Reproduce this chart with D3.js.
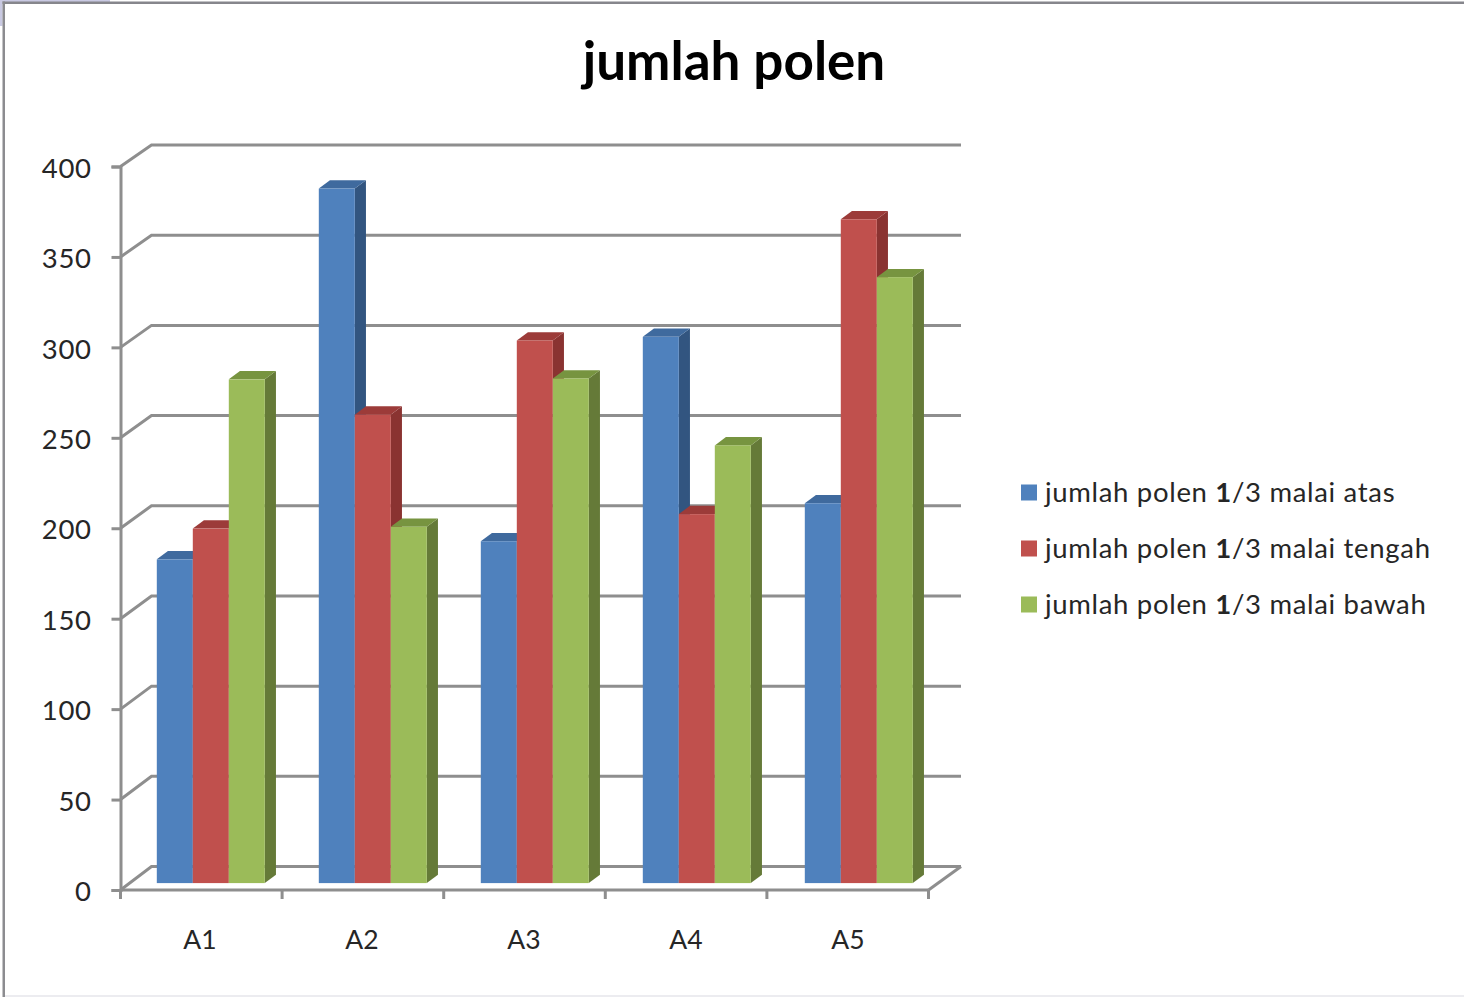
<!DOCTYPE html>
<html>
<head>
<meta charset="utf-8">
<script src="https://cdn.jsdelivr.net/npm/d3@7/dist/d3.min.js"></script>
<style>
  html, body { margin: 0; padding: 0; background: #fff; overflow: hidden; }
  svg { display: block; }
  text { font-family: Lato, "Open Sans", sans-serif; fill: #262626; }
</style>
</head>
<body>
<svg id="chart" width="1464" height="997"></svg>
<script>
const categories = ["A1", "A2", "A3", "A4", "A5"];
const seriesNames = ["malai atas", "malai tengah", "malai bawah"];
const atas = [179, 384, 189, 302, 210];
const tengah = [196, 259, 300, 204, 367];
const bawah = [278.5, 197, 279, 242, 335];
const yTicks = [0, 50, 100, 150, 200, 250, 300, 350, 400];
const seriesValues = [atas, tengah, bawah];

const fills = [
  { front: "#4f81bd", side: "#325580", top: "#3f6a9e" },
  { front: "#c0504d", side: "#8a3331", top: "#9c3b39" },
  { front: "#9bbb59", side: "#657a38", top: "#779440" }
];

const svg = d3.select("#chart");
const gray = "#8e8e8e";
const lineWidth = 3;

// Window frame around the chart area
svg.append("rect").attr("x", 0).attr("y", 0).attr("width", 110).attr("height", 2).attr("fill", "#c9c9e2");
svg.append("rect").attr("x", 0).attr("y", 0).attr("width", 2.5).attr("height", 26).attr("fill", "#c9c9e2");
svg.append("rect").attr("x", 2.5).attr("y", 1.5).attr("width", 1462).attr("height", 2.5).attr("fill", "#86868c");
svg.append("rect").attr("x", 2.5).attr("y", 1.5).attr("width", 2.5).attr("height", 996).attr("fill", "#8c8c90");
svg.append("rect").attr("x", 5).attr("y", 995).attr("width", 1459).attr("height", 2).attr("fill", "#ececf0");

// Axis-plane scales; the bars and back wall sit on a slightly wider plane
const xAxisScale = d3.scaleBand().domain(categories).range([120.5, 928.5]);
const xBars = d3.scaleBand().domain(categories).range([120.5, 930.5]);
const x1 = d3.scaleBand().domain(d3.range(3)).range([0, 108]);
const y = d3.scaleLinear().domain([0, 400]).range([890, 166.5]);
const yBack = d3.scaleLinear().domain([0, 400]).range([866.5, 145]);

// Oblique projection: depth 0 is the axis plane, depth 1 the back wall
const depthX = 31, depthY = 23;
const px = (x, d) => x + depthX * d;
const py = (v, d) => y(v) - depthY * d;
const barFront = 0.3, barBack = 0.66;

// Back wall gridlines with their run along the side wall
const grid = svg.append("g").attr("fill", "none").attr("stroke", gray).attr("stroke-width", lineWidth);
yTicks.forEach(t => {
  grid.append("path").attr("d", d3.line()([
    [xBars.range()[0], y(t)],
    [px(xBars.range()[0], 1), yBack(t)],
    [px(xBars.range()[1], 1) - 0.5, yBack(t)]
  ]));
});

// Right edge of the floor
grid.append("path").attr("d", d3.line()([
  [xAxisScale.range()[1], y(0)],
  [px(xBars.range()[1], 1) - 0.5, yBack(0)]
]));

// Axes
const yAxis = d3.axisLeft(y).tickValues(yTicks).tickSize(9).tickPadding(20);
const xAxis = d3.axisBottom(xBars).tickSize(0).tickPadding(40);

const gy = svg.append("g").attr("transform", `translate(${xAxisScale.range()[0]},0)`).call(yAxis);
const gx = svg.append("g").attr("transform", `translate(-1.5,${y(0)})`).call(xAxis);
[gy, gx].forEach(g => {
  g.selectAll(".domain").attr("stroke", gray).attr("stroke-width", lineWidth);
  g.selectAll("line").attr("stroke", gray).attr("stroke-width", lineWidth);
  g.selectAll("text").attr("font-size", 27.5).attr("font-family", "Lato").attr("fill", "#262626");
});
gy.selectAll("text").attr("dy", "0.39em").attr("letter-spacing", 0.6);
gx.selectAll("text").attr("font-size", 26.5);
gx.select(".domain").attr("d", `M${xAxisScale.range()[0] + 1.5},0H${xAxisScale.range()[1] + 1.5}`);

// Category boundary ticks on the x axis
const boundaries = categories.map(c => xAxisScale(c)).concat(xAxisScale.range()[1]);
svg.append("g").selectAll("line").data(boundaries).join("line")
  .attr("x1", d => d).attr("x2", d => d)
  .attr("y1", y(0)).attr("y2", y(0) + 9)
  .attr("stroke", gray).attr("stroke-width", lineWidth);

// Bars, left to right so each one overlaps the side of its neighbour
const poly = pts => d3.line()(pts) + "Z";
const groupOffset = (xBars.bandwidth() - x1.range()[1]) / 2;
categories.forEach((c, ci) => {
  seriesValues.forEach((vals, si) => {
    const v = vals[ci];
    const xl = xBars(c) + groupOffset + x1(si);
    const xr = xl + x1.bandwidth();
    const g = svg.append("g");
    const fx = (x) => px(x, barFront), bx = (x) => px(x, barBack);
    const fy = (val) => py(val, barFront), by = (val) => py(val, barBack);
    g.append("path").attr("fill", fills[si].side).attr("d", poly([
      [fx(xr), fy(0)], [bx(xr), by(0)], [bx(xr), by(v)], [fx(xr), fy(v)]
    ]));
    g.append("path").attr("fill", fills[si].top).attr("d", poly([
      [fx(xl), fy(v)], [bx(xl), by(v)], [bx(xr), by(v)], [fx(xr), fy(v)]
    ]));
    g.append("rect").attr("x", fx(xl)).attr("y", fy(v))
      .attr("width", x1.bandwidth()).attr("height", fy(0) - fy(v))
      .attr("fill", fills[si].front);
  });
});

// Title
svg.append("text").attr("x", 734).attr("y", 80).attr("text-anchor", "middle")
  .attr("font-size", 53).attr("font-weight", 700).style("fill", "#000")
  .text("jumlah polen");

// Legend
const legendY = d3.scalePoint().domain(seriesNames).range([492.5, 604.5]);
const legend = svg.append("g").selectAll("g").data(seriesNames).join("g")
  .attr("transform", d => `translate(1021,${legendY(d)})`);
legend.append("rect").attr("x", 0).attr("y", -8).attr("width", 16).attr("height", 16)
  .attr("fill", (d, i) => fills[i].front);
const label = legend.append("text").attr("x", 24).attr("y", 9).attr("font-size", 27.5)
  .attr("letter-spacing", 0.68);
label.append("tspan").text("jumlah polen ");
label.append("tspan").attr("font-weight", 700).text("1");
label.append("tspan").text("/3 ");
label.append("tspan").text(d => d);
</script>
</body>
</html>
